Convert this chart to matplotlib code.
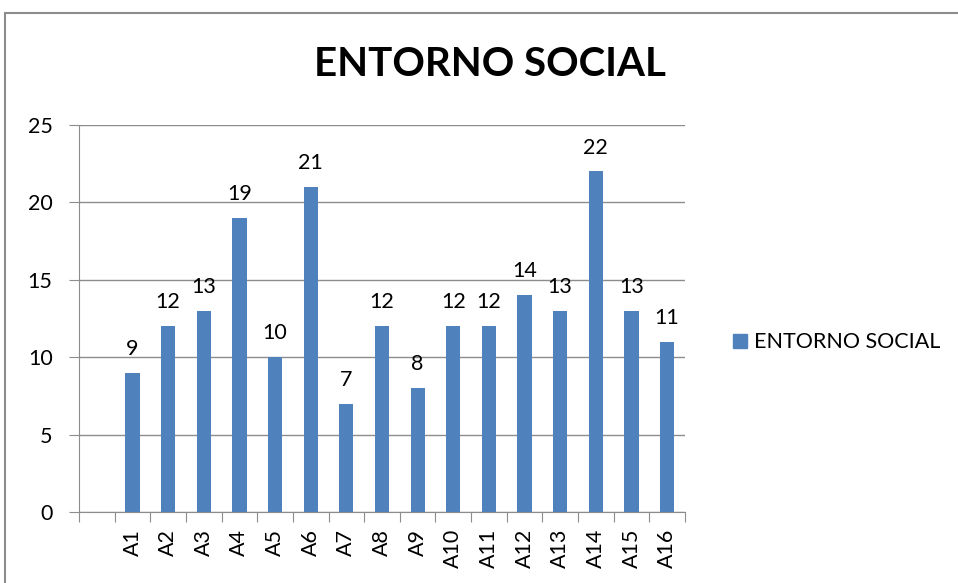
import matplotlib.pyplot as plt
from matplotlib.patches import Rectangle
from matplotlib.lines import Line2D
import numpy as np

# chart data
categories = ['', 'A1', 'A2', 'A3', 'A4', 'A5', 'A6', 'A7', 'A8', 'A9', 'A10',
              'A11', 'A12', 'A13', 'A14', 'A15', 'A16']
values = [0, 9, 12, 13, 19, 10, 21, 7, 12, 8, 12, 12, 14, 13, 22, 13, 11]
show_label = [False] + [True] * 16
series_name = 'ENTORNO SOCIAL'

plt.rcParams['font.family'] = ['Lato', 'DejaVu Sans']
bar_color = '#4F81BD'
grid_color = '#8C8C8C'

fig = plt.figure(figsize=(9.58, 5.83), dpi=100)
ax = fig.add_axes([0.0825, 0.1218, 0.6325, 0.6638])

x = np.arange(len(categories))
bars = ax.bar(x, values, width=0.4, color=bar_color, zorder=3, label=series_name)

for xi, v, s in zip(x, values, show_label):
    if s:
        ax.annotate(str(v), (xi, v), xytext=(0, 10), textcoords='offset points',
                    ha='center', va='bottom', fontsize=15.5)

ax.set_xlim(-0.5, len(categories) - 0.5)
ax.set_ylim(0, 25)
ax.set_yticks([0, 5, 10, 15, 20, 25])
ax.yaxis.grid(True, color=grid_color, linewidth=1, zorder=0)
ax.tick_params(axis='y', labelsize=15.5, length=7, color=grid_color, pad=12)

# tick marks between categories, labels at centres
ax.set_xticks(np.arange(-0.5, len(categories), 1.0))
ax.set_xticklabels([])
ax.tick_params(axis='x', which='major', length=7, color=grid_color)
ax.set_xticks(x, minor=True)
ax.set_xticklabels(categories, minor=True, rotation=90, fontsize=15.5)
ax.tick_params(axis='x', which='minor', length=0, pad=12)

for side in ['top', 'right']:
    ax.spines[side].set_visible(False)
for side in ['left', 'bottom']:
    ax.spines[side].set_color(grid_color)

fig.text(0.512, 0.89, 'ENTORNO SOCIAL', ha='center', va='center',
         fontsize=29, fontweight='bold')

legend_handle = Line2D([], [], linestyle='none', marker='s', markersize=10.5,
                       color=bar_color)
fig.legend(handles=[legend_handle], labels=[series_name], loc='center left',
           bbox_to_anchor=(0.744, 0.413), frameon=False, fontsize=15.5,
           handlelength=0.7, handletextpad=0.3)

# outer chart border (cut off at right and bottom)
fig.patches.append(Rectangle((5 / 958, -0.1), 1.2, 1.1 - 13 / 583,
                             transform=fig.transFigure, fill=False,
                             edgecolor=grid_color, linewidth=1.5))

fig.savefig('out.png', dpi=100)
